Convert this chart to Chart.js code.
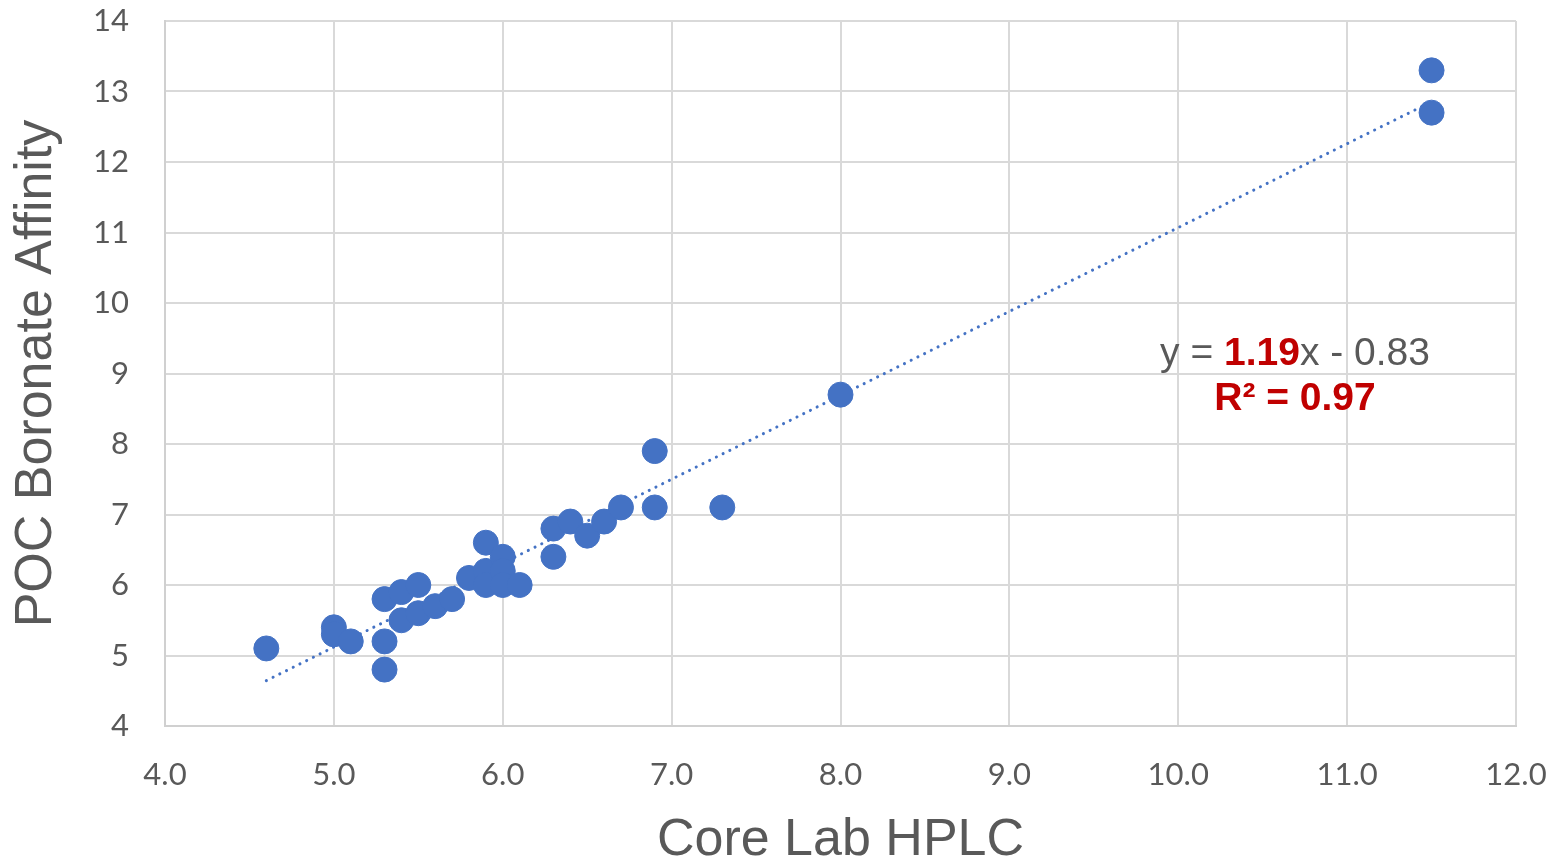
<!DOCTYPE html>
<html>
<head>
    <meta charset="UTF-8">
    <title>POC Boronate Affinity vs Core Lab HPLC</title>
    <style>
        html, body { margin: 0; padding: 0; background: #fff; }
        #wrap { width: 1558px; height: 861px; }
    </style>
</head>
<body>
    <div id="wrap"><canvas id="myChart" width="1558" height="861"></canvas></div>
    <script src="https://cdn.jsdelivr.net/npm/chart.js"></script>
    <script>
        // values
        const hplc = [4.6, 5.0, 5.0, 5.1, 5.3, 5.3, 5.3, 5.4, 5.4, 5.5, 5.5, 5.6, 5.7, 5.8,
                      5.9, 5.9, 5.9, 6.0, 6.0, 6.0, 6.1, 6.3, 6.3, 6.4, 6.5, 6.6, 6.7,
                      6.9, 6.9, 7.3, 8.0, 11.5, 11.5];
        const boronate = [5.1, 5.4, 5.3, 5.2, 5.8, 5.2, 4.8, 5.9, 5.5, 6.0, 5.6, 5.7, 5.8, 6.1,
                          6.6, 6.2, 6.0, 6.4, 6.2, 6.0, 6.0, 6.8, 6.4, 6.9, 6.7, 6.9, 7.1,
                          7.9, 7.1, 7.1, 8.7, 13.3, 12.7];
        const xTicks = [4, 5, 6, 7, 8, 9, 10, 11, 12];
        const yTicks = [4, 5, 6, 7, 8, 9, 10, 11, 12, 13, 14];

        // trendline as printed on the chart
        const slope = 1.19;
        const intercept = -0.83;
        const trendX = [Math.min(...hplc), Math.max(...hplc)];

        const points = hplc.map((x, i) => ({ x: x, y: boronate[i] }));
        const trend = trendX.map(x => ({ x: x, y: slope * x + intercept }));

        const grey = '#595959';
        const red = '#C00000';
        const blue = '#4472C4';

        const equationLabel = {
            id: 'equationLabel',
            afterDatasetsDraw(chart) {
                const c = chart.ctx;
                const cx = 1295;
                const y1 = 365, y2 = 410;
                const normal = '39px "Liberation Sans", Arial, sans-serif';
                const bold = 'bold 39px "Liberation Sans", Arial, sans-serif';
                const parts = [
                    ['y = ', normal, grey],
                    ['1.19', bold, red],
                    ['x - 0.83', normal, grey]
                ];
                c.save();
                c.textBaseline = 'alphabetic';
                c.textAlign = 'left';
                let total = 0;
                parts.forEach(p => { c.font = p[1]; total += c.measureText(p[0]).width; });
                let x = cx - total / 2;
                parts.forEach(p => {
                    c.font = p[1];
                    c.fillStyle = p[2];
                    c.fillText(p[0], x, y1);
                    x += c.measureText(p[0]).width;
                });
                c.font = bold;
                c.fillStyle = red;
                c.textAlign = 'center';
                c.fillText('R\u00B2 = 0.97', cx, y2);
                c.restore();
            }
        };

        const ctx = document.getElementById('myChart').getContext('2d');
        const myChart = new Chart(ctx, {
            type: 'scatter',
            data: {
                datasets: [{
                    label: 'Trend',
                    type: 'line',
                    data: trend,
                    borderColor: blue,
                    borderWidth: 3,
                    borderDash: [0.1, 7.4],
                    borderCapStyle: 'round',
                    pointRadius: 0,
                    fill: false,
                    order: 2
                },
                {
                    label: 'Samples',
                    data: points,
                    backgroundColor: blue,
                    borderColor: blue,
                    pointRadius: 12.5,
                    pointHoverRadius: 12.5,
                    order: 1
                }]
            },
            options: {
                responsive: false,
                animation: false,
                layout: { padding: { top: 21, right: 42, left: 0, bottom: 0 } },
                plugins: {
                    legend: { display: false },
                    tooltip: { enabled: false }
                },
                scales: {
                    x: {
                        type: 'linear',
                        min: 4,
                        max: 12,
                        afterBuildTicks: axis => { axis.ticks = xTicks.map(v => ({ value: v })); },
                        afterFit: axis => {
                            axis.height = 135;
                            axis.paddingLeft = 0;
                            axis.paddingRight = 0;
                        },
                        grid: { color: '#d9d9d9', lineWidth: 2, drawTicks: false },
                        border: { color: '#d0d0d0', width: 2 },
                        ticks: {
                            padding: 30,
                            color: grey,
                            font: { family: 'Lato, "Open Sans", sans-serif', size: 31 },
                            callback: v => v.toFixed(1)
                        },
                        title: {
                            display: true,
                            text: 'Core Lab HPLC',
                            color: grey,
                            padding: 0,
                            font: { family: '"Liberation Sans", Arial, sans-serif', size: 52, lineHeight: 0.8 }
                        }
                    },
                    y: {
                        type: 'linear',
                        min: 4,
                        max: 14,
                        afterBuildTicks: axis => { axis.ticks = yTicks.map(v => ({ value: v })); },
                        afterFit: axis => {
                            axis.width = 165;
                            axis.paddingTop = 0;
                            axis.paddingBottom = 0;
                        },
                        grid: { color: '#d9d9d9', lineWidth: 2, drawTicks: false },
                        border: { color: '#d0d0d0', width: 2 },
                        ticks: {
                            padding: 36,
                            color: grey,
                            font: { family: 'Lato, "Open Sans", sans-serif', size: 31 }
                        },
                        title: {
                            display: true,
                            text: 'POC Boronate Affinity',
                            color: grey,
                            padding: { top: 8, bottom: 0 },
                            font: { family: '"Liberation Sans", Arial, sans-serif', size: 52, lineHeight: 1.1 }
                        }
                    }
                }
            },
            plugins: [equationLabel]
        });
    </script>
</body>
</html>
